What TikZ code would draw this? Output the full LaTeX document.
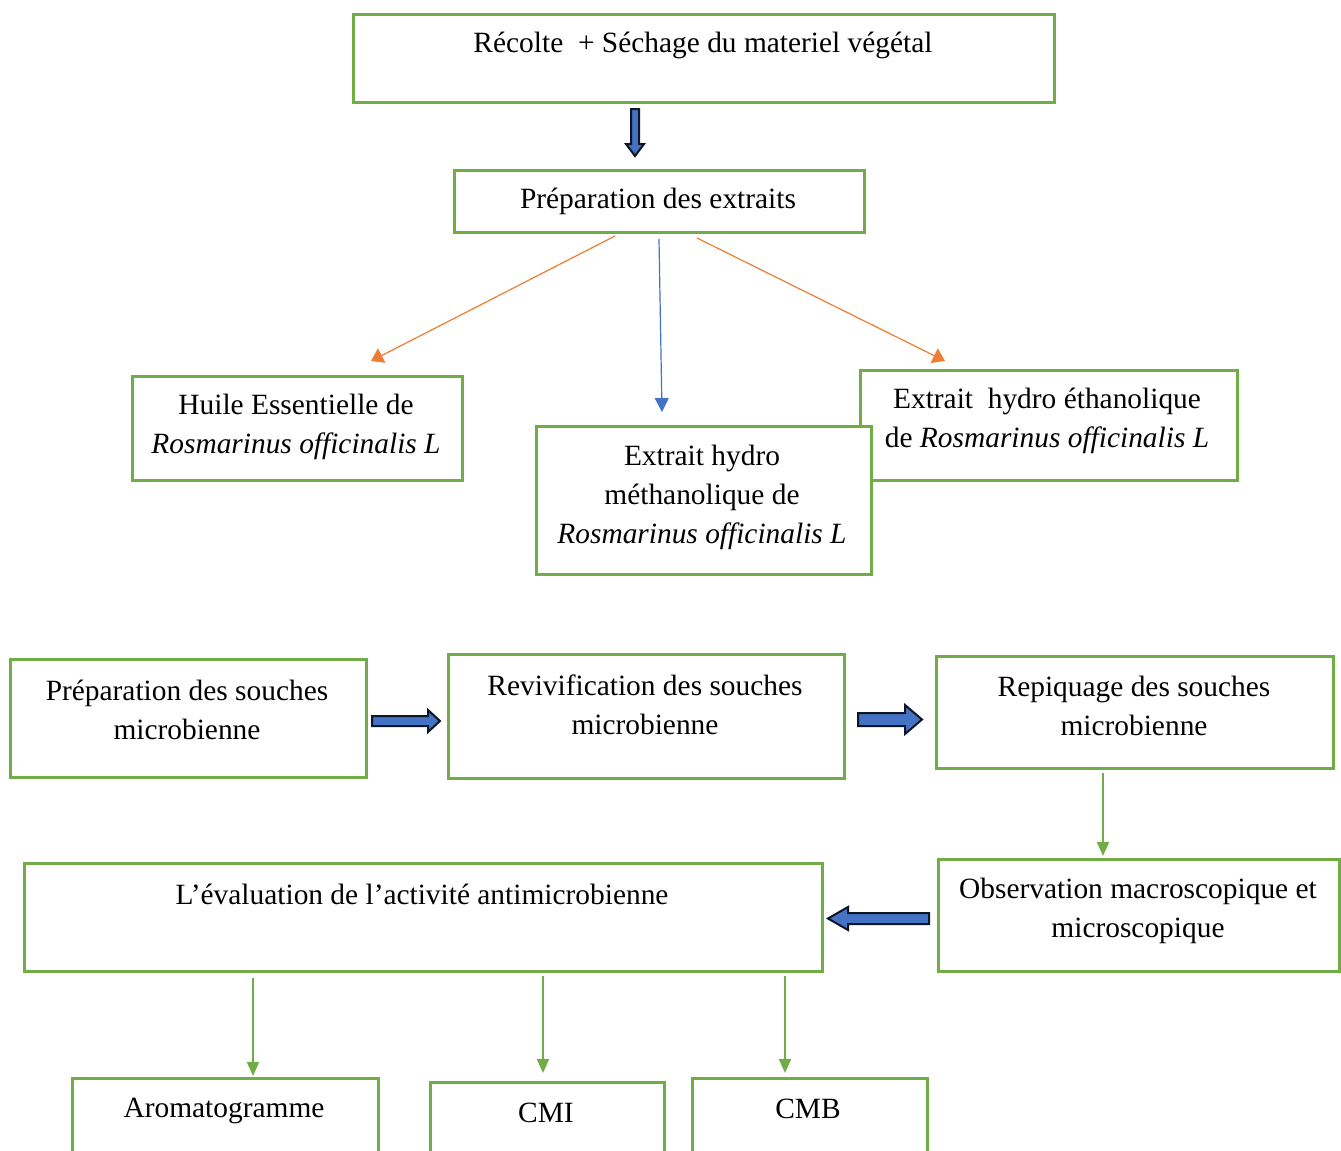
\documentclass[tikz,border=0pt]{standalone}
\usepackage{fontspec}
\setmainfont{Liberation Serif}
\usetikzlibrary{arrows.meta}
\definecolor{gbox}{HTML}{70AD47}
\definecolor{oline}{HTML}{ED7D31}
\definecolor{bline}{HTML}{4472C4}
\definecolor{dark}{HTML}{0C1624}
\begin{document}
\begin{tikzpicture}[x=0.5pt,y=-0.5pt,
  box/.style={draw=gbox,line width=1.5pt,fill=white,inner sep=0,anchor=north west},
  lbl/.style={font=\fontsize{14.7}{19.5}\selectfont,align=center,inner sep=0},
  olink/.style={draw=oline,line width=0.6pt,-{Triangle[width=8pt,length=6pt]},oline},
  blink/.style={draw=bline,line width=0.6pt,-{Triangle[width=7pt,length=7pt]},bline},
  glink/.style={draw=gbox,line width=1pt,-{Triangle[width=6pt,length=7pt]},gbox},
  barrow/.style={fill=bline,draw=dark,line width=1pt,line join=miter}]
\clip (0,0) rectangle (1341,1151);
\fill[white] (0,0) rectangle (1341,1151);

% boxes
\node[box,minimum width=350.5pt,minimum height=44pt] (b1) at (352,13) {};
\node[box,minimum width=205pt,minimum height=31pt] (b2) at (453,169) {};
\node[box,minimum width=165pt,minimum height=52pt] (b3) at (131,375) {};
\node[box,minimum width=188.5pt,minimum height=55pt] (b5) at (859,369) {};
\node[box,minimum width=167.5pt,minimum height=74pt] (b4) at (535,425) {};
\node[box,minimum width=178pt,minimum height=59pt] (b6) at (9,658) {};
\node[box,minimum width=198pt,minimum height=62pt] (b7) at (447,653) {};
\node[box,minimum width=198.5pt,minimum height=56pt] (b8) at (935,655) {};
\node[box,minimum width=200.5pt,minimum height=56pt] (b9) at (937,858) {};
\node[box,minimum width=399pt,minimum height=54pt] (b10) at (23,862) {};
\node[box,minimum width=153pt,minimum height=100pt] (b11) at (71,1077) {};
\node[box,minimum width=117pt,minimum height=100pt] (b12) at (429,1081) {};
\node[box,minimum width=117.5pt,minimum height=100pt] (b13) at (691,1077) {};

% labels
\node[lbl] (t1) at (703,45) {Récolte~ + Séchage du materiel végétal};
\node[lbl] (t2) at (658,201) {Préparation des extraits};
\node[lbl] (t3) at (296,427) {Huile Essentielle de\\\textit{Rosmarinus officinalis L}};
\node[lbl] (t4) at (702,497) {Extrait hydro\\méthanolique de\\\textit{Rosmarinus officinalis L}};
\node[lbl] (t5) at (1047,421) {Extrait~ hydro éthanolique\\de \textit{Rosmarinus officinalis L}};
\node[lbl] (t6) at (187,710) {Préparation des souches\\microbienne};
\node[lbl] (t7) at (645,705) {Revivification des souches\\microbienne};
\node[lbl] (t8) at (1134,706) {Repiquage des souches\\microbienne};
\node[lbl] (t9) at (1138,911) {Observation macroscopique et\\microscopique};
\node[lbl] (t10) at (422,894) {L’évaluation de l’activité antimicrobienne};
\node[lbl] (t11) at (224,1111) {Aromatogramme};
\node[lbl] (t12) at (546,1113) {CMI};
\node[lbl] (t13) at (808,1109) {CMB};

% thin connectors
\coordinate (oL1) at (615,236); \coordinate (oL2) at (371,361);
\coordinate (oR1) at (697,238); \coordinate (oR2) at (945,361);
\coordinate (bM1) at (659,239); \coordinate (bM2) at (662,412);
\draw[olink] (oL1) -- (oL2);
\draw[olink] (oR1) -- (oR2);
\draw[blink] (bM1) -- (bM2);

\coordinate (g1a) at (1103,773); \coordinate (g1b) at (1103,856);
\coordinate (g2a) at (253,978);  \coordinate (g2b) at (253,1076);
\coordinate (g3a) at (543,976);  \coordinate (g3b) at (543,1073);
\coordinate (g4a) at (785,976);  \coordinate (g4b) at (785,1073);
\draw[glink] (g1a) -- (g1b);
\draw[glink] (g2a) -- (g2b);
\draw[glink] (g3a) -- (g3b);
\draw[glink] (g4a) -- (g4b);

% block arrows
\draw[barrow] (631,109) -- (639,109) -- (639,144) -- (644,144) -- (635,156) -- (626,144) -- (631,144) -- cycle;
\draw[barrow] (372,716) -- (428,716) -- (428,710) -- (440,721) -- (428,732) -- (428,726) -- (372,726) -- cycle;
\draw[barrow] (858,713) -- (905,713) -- (905,705) -- (922,719.5) -- (905,734) -- (905,726) -- (858,726) -- cycle;
\draw[barrow] (929,913) -- (848,913) -- (848,907) -- (828,918.5) -- (848,930) -- (848,924) -- (929,924) -- cycle;
\end{tikzpicture}
\end{document}
